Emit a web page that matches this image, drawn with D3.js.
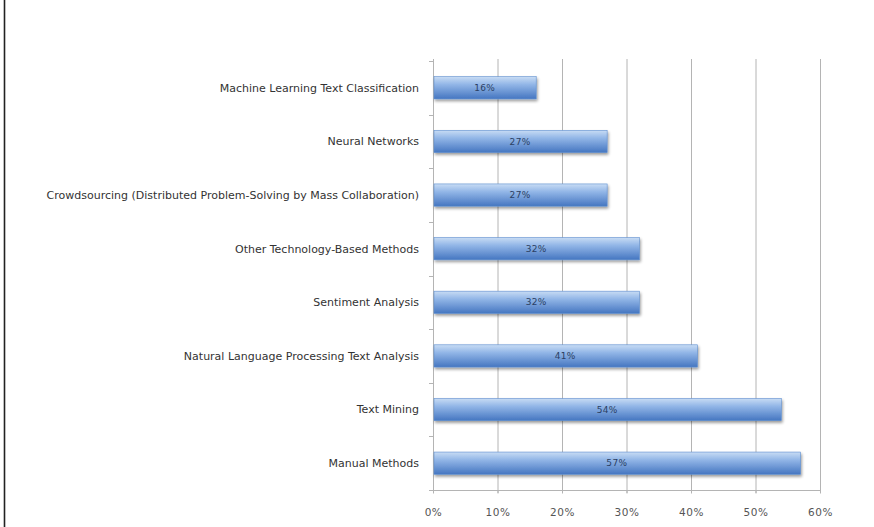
<!DOCTYPE html>
<html>
<head>
<meta charset="utf-8">
<script src="https://cdn.jsdelivr.net/npm/d3@7"></script>
<style>
  html, body { margin: 0; padding: 0; background: #fff; }
  svg { display: block; }
</style>
</head>
<body>
<svg id="chart" width="874" height="527"></svg>
<script>
// Categories listed top to bottom, with the share of respondents for each
const categories = [
  "Machine Learning Text Classification",
  "Neural Networks",
  "Crowdsourcing (Distributed Problem-Solving by Mass Collaboration)",
  "Other Technology-Based Methods",
  "Sentiment Analysis",
  "Natural Language Processing Text Analysis",
  "Text Mining",
  "Manual Methods"
];
const shares = [16, 27, 27, 32, 32, 41, 54, 57];
const xTicks = [0, 10, 20, 30, 40, 50, 60];

const svg = d3.select("#chart");
const W = 874, H = 527;
const FONT = "DejaVu Sans, Verdana, sans-serif";

// page border on the left edge
svg.append("line")
  .attr("x1", 4.5).attr("x2", 4.5).attr("y1", 0).attr("y2", H)
  .attr("stroke", "#222").attr("stroke-width", 1.6);

const plot = { left: 433, right: 820, top: 61, bottom: 490 };

const x = d3.scaleLinear().domain([0, 60]).range([plot.left, plot.right]);
const y = d3.scaleBand().domain(categories).range([plot.top, plot.bottom])
  .paddingInner(0.585).paddingOuter(0.2925);

const defs = svg.append("defs");
const grad = defs.append("linearGradient").attr("id", "barFill")
  .attr("x1", 0).attr("y1", 0).attr("x2", 0).attr("y2", 1);
grad.append("stop").attr("offset", "0%").attr("stop-color", "#c8dcf4");
grad.append("stop").attr("offset", "35%").attr("stop-color", "#92b6e7");
grad.append("stop").attr("offset", "100%").attr("stop-color", "#4576c1");

const shadow = defs.append("filter").attr("id", "barShadow")
  .attr("x", "-5%").attr("y", "-30%").attr("width", "110%").attr("height", "180%");
shadow.append("feGaussianBlur").attr("in", "SourceAlpha").attr("stdDeviation", 1.5).attr("result", "b");
shadow.append("feOffset").attr("in", "b").attr("dx", 1).attr("dy", 2).attr("result", "o");
shadow.append("feComponentTransfer").attr("in", "o").attr("result", "s")
  .append("feFuncA").attr("type", "linear").attr("slope", 0.4);
const merge = shadow.append("feMerge");
merge.append("feMergeNode").attr("in", "s");
merge.append("feMergeNode").attr("in", "SourceGraphic");

// vertical gridlines
svg.append("g").selectAll("line")
  .data(xTicks.slice(1))
  .join("line")
  .attr("x1", d => x(d) + 0.5).attr("x2", d => x(d) + 0.5)
  .attr("y1", plot.top - 2).attr("y2", plot.bottom + 3)
  .attr("stroke", "#b4b4b4").attr("stroke-width", 1);

// bottom axis
const xAxis = svg.append("g")
  .attr("transform", `translate(0,${plot.bottom + 0.5})`)
  .call(d3.axisBottom(x).tickValues(xTicks).tickFormat(d => d + "%").tickSize(3).tickPadding(15));
xAxis.select(".domain").attr("stroke", "#b4b4b4").attr("d", `M${plot.left - 3},0H${plot.right + 0.5}`);
xAxis.selectAll(".tick line").attr("stroke", "#b4b4b4");
xAxis.selectAll("text")
  .attr("fill", "#555").attr("font-family", FONT)
  .attr("font-size", 10.5).attr("letter-spacing", 0.5);

// left axis with ticks between categories
svg.append("line")
  .attr("x1", plot.left + 0.5).attr("x2", plot.left + 0.5)
  .attr("y1", plot.top - 2).attr("y2", plot.bottom + 3)
  .attr("stroke", "#b4b4b4");
const bounds = d3.range(categories.length + 1).map(i => plot.top + i * (plot.bottom - plot.top) / categories.length);
svg.append("g").selectAll("line")
  .data(bounds)
  .join("line")
  .attr("x1", plot.left - 4).attr("x2", plot.left)
  .attr("y1", d => Math.round(d) + 0.5).attr("y2", d => Math.round(d) + 0.5)
  .attr("stroke", "#b4b4b4");

// category labels
svg.append("g").selectAll("text")
  .data(categories)
  .join("text")
  .attr("x", plot.left - 14)
  .attr("y", d => y(d) + y.bandwidth() / 2)
  .attr("dy", "0.35em")
  .attr("text-anchor", "end")
  .attr("fill", "#333")
  .attr("font-family", FONT)
  .attr("font-size", 11)
  .text(d => d);

// bars
svg.append("g").selectAll("rect")
  .data(categories)
  .join("rect")
  .attr("x", plot.left + 1)
  .attr("y", d => y(d))
  .attr("width", (d, i) => x(shares[i]) - plot.left - 1)
  .attr("height", y.bandwidth())
  .attr("fill", "url(#barFill)")
  .attr("stroke", "#5f8fd0")
  .attr("stroke-width", 0.6)
  .attr("filter", "url(#barShadow)");

// value labels inside bars
svg.append("g").selectAll("text")
  .data(categories)
  .join("text")
  .attr("x", (d, i) => (plot.left + x(shares[i])) / 2)
  .attr("y", d => y(d) + y.bandwidth() / 2)
  .attr("dy", "0.35em")
  .attr("text-anchor", "middle")
  .attr("fill", "#2b3f63")
  .attr("font-family", FONT)
  .attr("font-size", 9)
  .attr("letter-spacing", 0.3)
  .text((d, i) => shares[i] + "%");
</script>
</body>
</html>
